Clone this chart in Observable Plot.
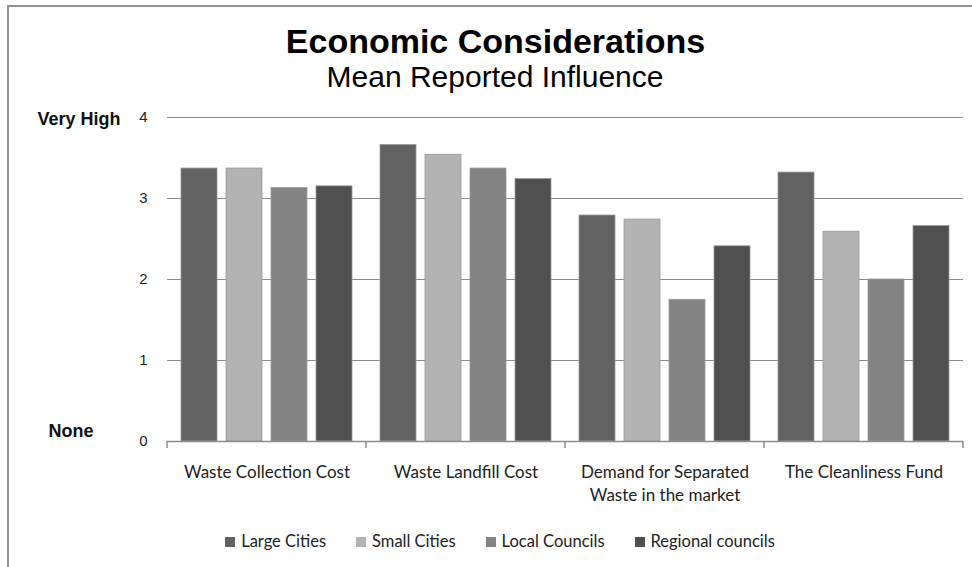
<!DOCTYPE html>
<html>
<head>
<meta charset="utf-8">
<script src="https://cdn.jsdelivr.net/npm/d3@7"></script>
<script src="https://cdn.jsdelivr.net/npm/@observablehq/plot@0.6"></script>
<style>
  html, body { margin: 0; padding: 0; background: #fff; }
  #wrap { position: relative; width: 972px; height: 567px; overflow: hidden; background: #fff; }
  #frame { position: absolute; left: 7px; top: 5px; width: 980px; height: 600px; border-left: 2px solid #909090; border-top: 2px solid #909090; box-sizing: border-box; }
  #title { position: absolute; left: 0; width: 991px; top: 21px; text-align: center; font-family: "Liberation Sans", Arial, sans-serif; font-weight: bold; font-size: 34px; color: #000; line-height: 40px; }
  #subtitle { position: absolute; left: 0; width: 990px; top: 60px; text-align: center; font-family: "Liberation Sans", Arial, sans-serif; font-size: 30px; color: #000; line-height: 34px; }
  #chart { position: absolute; left: 0; top: 100px; }
  #legend { position: absolute; left: 0; width: 1000px; top: 531px; text-align: center; font-family: Lato, "Open Sans", sans-serif; font-size: 16.5px; color: #222; }
  #legend span.item { margin: 0 15px; white-space: nowrap; }
  #legend span.sw { display: inline-block; width: 10px; height: 10px; margin-right: 6px; vertical-align: 0px; }
</style>
</head>
<body>
<div id="wrap">
  <div id="frame"></div>
  <div id="title">Economic Considerations</div>
  <div id="subtitle">Mean Reported Influence</div>
  <div id="chart"></div>
  <div id="legend"></div>
</div>
<script>
const categories = ["Waste Collection Cost", "Waste Landfill Cost", "Demand for Separated\nWaste in the market", "The Cleanliness Fund"];
const seriesNames = ["Large Cities", "Small Cities", "Local Councils", "Regional councils"];
const seriesColors = ["#626262", "#b3b3b3", "#838383", "#505050"];
const largeCities = [3.37, 3.66, 2.79, 3.32];
const smallCities = [3.37, 3.54, 2.74, 2.59];
const localCouncils = [3.13, 3.37, 1.75, 2.00];
const regionalCouncils = [3.15, 3.24, 2.41, 2.66];
const yTicks = [0, 1, 2, 3, 4];

const seriesValues = [largeCities, smallCities, localCouncils, regionalCouncils];
const data = [];
categories.forEach((c, i) => {
  seriesNames.forEach((s, j) => {
    data.push({category: c, series: s, value: seriesValues[j][i]});
  });
});

const chart = Plot.plot({
  width: 972,
  height: 420,
  marginLeft: 167,
  marginRight: 9,
  marginTop: 17,
  marginBottom: 79,
  style: {fontFamily: "Liberation Sans, Arial, sans-serif", background: "transparent"},
  fx: {domain: categories, padding: 0, label: null},
  x: {domain: seriesNames, paddingInner: 0.2, paddingOuter: 0.3, axis: null},
  y: {domain: [0, 4], label: null},
  color: {domain: seriesNames, range: seriesColors},
  marks: [
    Plot.gridY(yTicks.filter(d => d > 0), {stroke: "#8c8c8c", strokeOpacity: 1, strokeWidth: 1.2}),
    Plot.barY(data, {fx: "category", x: "series", y: "value", fill: "series", stroke: "#9a9a9a", strokeWidth: 0.8}),
    Plot.ruleY([0], {stroke: "#8c8c8c", strokeWidth: 1.5}),
    Plot.axisY(yTicks, {anchor: "left", tickSize: 0, tickPadding: 20, fontSize: 15, fill: "#222", tickFormat: d => String(d)}),
    Plot.axisY([4], {anchor: "left", tickSize: 0, tickPadding: 47, dy: 2, fontSize: 18, fontWeight: "bold", fill: "#111", tickFormat: () => "Very High"}),
    Plot.axisY([0], {anchor: "left", tickSize: 0, tickPadding: 74, dy: -10, fontSize: 18, fontWeight: "bold", fill: "#111", tickFormat: () => "None"}),
    Plot.axisFx({anchor: "bottom", tickSize: 0, tickPadding: 20, fontSize: 17, lineHeight: 1.35, fontFamily: "Lato, Open Sans, sans-serif", fill: "#222", label: null})
  ]
});
document.getElementById("chart").appendChild(chart);

// group boundary ticks on the baseline, placed from the fx scale
const fx = chart.scale("fx");
const yScale = chart.scale("y");
const y0 = yScale.apply(0);
const bounds = categories.map(c => fx.apply(c)).concat([fx.apply(categories[categories.length - 1]) + fx.bandwidth]);
d3.select(chart).append("g")
  .selectAll("line").data(bounds).join("line")
  .attr("x1", d => d).attr("x2", d => d)
  .attr("y1", y0).attr("y2", y0 + 7)
  .attr("stroke", "#8c8c8c").attr("stroke-width", 1.5);

// legend
const legend = d3.select("#legend");
seriesNames.forEach((s, i) => {
  const item = legend.append("span").attr("class", "item");
  item.append("span").attr("class", "sw").style("background", seriesColors[i]);
  item.append("span").text(s);
});
</script>
</body>
</html>
